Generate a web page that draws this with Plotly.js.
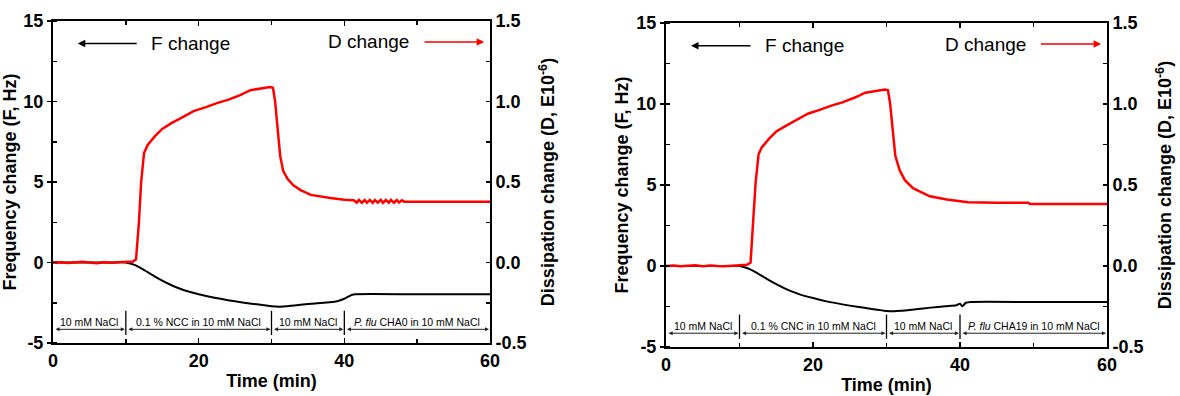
<!DOCTYPE html>
<html>
<head>
<meta charset="utf-8">
<script src="https://cdn.plot.ly/plotly-3.0.1.min.js"></script>
<style>
  html, body { margin: 0; padding: 0; background: #fff; }
  #chart { width: 1180px; height: 396px; }
</style>
</head>
<body>
<div id="chart"></div>
<script>
// ---------------- Data ----------------
// Panel A (NCC / CHA0): frequency change (Hz)
const timeF_A = [0, 4, 8, 10, 11, 12, 13, 14, 15, 16, 17, 18, 20, 22, 24, 26, 28, 29, 30, 31, 32, 34, 36, 38, 39, 40, 41, 41.5, 50, 60];
const freqA   = [0, 0, 0, 0, -0.12, -0.33, -0.6, -0.87, -1.12, -1.35, -1.55, -1.72, -1.97, -2.18, -2.34, -2.48, -2.6, -2.66, -2.72, -2.75, -2.72, -2.62, -2.54, -2.47, -2.41, -2.25, -2.02, -1.97, -1.97, -1.97];
// Panel A: dissipation change (E10^-6)
const timeD_A = [0, 1, 2, 3, 4, 5, 6, 7, 8, 9, 10, 11, 11.4, 11.8, 12.1, 12.5, 13, 14, 15, 16.3, 17.5, 19.3, 21, 22.5, 24, 25.7, 27.1, 28.5, 29.8, 30.2, 30.5, 30.8, 31.2, 31.6, 32.2, 33, 34, 35.4, 36.7, 38.1, 40, 41.3, 41.7, 42.0, 42.4, 42.8, 43.1, 43.5, 43.9, 44.2, 44.6, 45.0, 45.3, 45.7, 46.1, 46.4, 46.8, 47.2, 47.5, 47.9, 48.2, 52, 56, 60];
const dissA   = [0, 0.002, -0.003, 0.001, 0.004, 0.0, -0.004, 0.002, -0.002, 0.001, 0.003, 0.006, 0.02, 0.25, 0.5, 0.68, 0.73, 0.785, 0.83, 0.867, 0.895, 0.94, 0.965, 0.99, 1.01, 1.04, 1.07, 1.08, 1.09, 1.085, 1.0, 0.85, 0.66, 0.57, 0.52, 0.48, 0.45, 0.42, 0.41, 0.4, 0.39, 0.387, 0.372, 0.389, 0.371, 0.388, 0.372, 0.389, 0.371, 0.388, 0.372, 0.389, 0.371, 0.388, 0.372, 0.389, 0.371, 0.388, 0.372, 0.387, 0.378, 0.377, 0.377, 0.377];

// Panel B (CNC / CHA19): frequency change (Hz)
const timeF_B = [0, 4, 8, 10, 11, 12, 13, 14, 15, 16, 17, 18, 20, 22, 24, 26, 28, 29, 30, 31, 32, 34, 36, 38, 39.5, 40, 40.3, 40.8, 41.5, 50, 60];
const freqB   = [0, 0, 0, 0, -0.12, -0.33, -0.6, -0.87, -1.12, -1.35, -1.55, -1.72, -1.98, -2.2, -2.37, -2.52, -2.65, -2.72, -2.78, -2.8, -2.77, -2.67, -2.57, -2.48, -2.42, -2.33, -2.48, -2.27, -2.22, -2.22, -2.22];
// Panel B: dissipation change (E10^-6)
const timeD_B = [0, 1, 2, 3, 4, 5, 6, 7, 8, 9, 10, 11, 11.5, 11.9, 12.2, 12.6, 13, 14, 15, 16.3, 17.5, 19.3, 21, 22.5, 24, 25.7, 27.1, 28.5, 29.8, 30.2, 30.5, 30.8, 31.2, 31.8, 32.5, 33.6, 35.9, 38.2, 40, 41.1, 45, 49.3, 49.5, 55, 60];
const dissB   = [0, 0.003, -0.002, 0.002, 0.004, -0.001, 0.003, 0.0, -0.002, 0.002, 0.004, 0.007, 0.02, 0.28, 0.52, 0.69, 0.73, 0.785, 0.83, 0.865, 0.895, 0.94, 0.965, 0.99, 1.01, 1.04, 1.07, 1.08, 1.09, 1.085, 1.0, 0.86, 0.68, 0.59, 0.53, 0.48, 0.43, 0.41, 0.4, 0.393, 0.391, 0.39, 0.383, 0.383, 0.383];

// Phase boundaries and labels (time, min)
const phaseBounds = [0, 10, 30, 40, 60];
const phaseLabelsA = ['10 mM NaCl', '0.1 % NCC in 10 mM NaCl', '10 mM NaCl', '<i>P. flu</i> CHA0 in 10 mM NaCl'];
const phaseLabelsB = ['10 mM NaCl', '0.1 % CNC in 10 mM NaCl', '10 mM NaCl', '<i>P. flu</i> CHA19 in 10 mM NaCl'];

// Axis ticks
const xTicks = [0, 20, 40, 60];
const yTicks = [-5, 0, 5, 10, 15];
const yTickLabels = ['-5', '0', '5', '10', '15'];
const y2Ticks = [-0.5, 0, 0.5, 1.0, 1.5];
const y2TickLabels = ['-0.5', '0.0', '0.5', '1.0', '1.5'];

// ---------------- Styling ----------------
const FONT = 'Liberation Sans, Arial, sans-serif';
const tickFont = {family: FONT, size: 18, color: '#000', weight: 'bold'};
const titleFont = {family: FONT, size: 18, color: '#000', weight: 'bold'};

function xAxis(domain, anchor) {
  return {
    domain: domain, anchor: anchor, range: [0, 60],
    showline: true, linewidth: 2, linecolor: '#000', mirror: 'ticks',
    ticks: 'inside', ticklen: 5, tickwidth: 1.5, tickcolor: '#000',
    tickmode: 'array', tickvals: xTicks, ticktext: xTicks.map(String),
    minor: {tick0: 0, dtick: 10, ticks: 'inside', ticklen: 4, tickwidth: 1.5, tickcolor: '#000'},
    showgrid: false, zeroline: false, tickfont: tickFont,
    title: {text: 'Time (min)', font: titleFont, standoff: 5}
  };
}
function yLeft(domain, anchor) {
  return {
    domain: domain, anchor: anchor, range: [-5, 15],
    showline: true, linewidth: 2, linecolor: '#000',
    ticks: 'outside', ticklen: 4, tickwidth: 1.5, tickcolor: '#000',
    tickmode: 'array', tickvals: yTicks, ticktext: yTickLabels,
    minor: {tick0: 0, dtick: 2.5, ticks: 'inside', ticklen: 4, tickwidth: 1.5, tickcolor: '#000'},
    showgrid: false, zeroline: false, tickfont: tickFont,
    title: {text: 'Frequency change (F, Hz)', font: titleFont, standoff: 3}
  };
}
function yRight(overlay, anchor) {
  return {
    overlaying: overlay, side: 'right', anchor: anchor, range: [-0.5, 1.5],
    showline: true, linewidth: 2, linecolor: '#000',
    ticks: 'inside', ticklen: 4, tickwidth: 1.5, tickcolor: '#000',
    tickmode: 'array', tickvals: y2Ticks, ticktext: y2TickLabels,
    minor: {tick0: 0, dtick: 0.25, ticks: 'inside', ticklen: 4, tickwidth: 1.5, tickcolor: '#000'},
    showgrid: false, zeroline: false, tickfont: tickFont,
    title: {text: 'Dissipation change (D, E10<sup>-6</sup>)', font: titleFont, standoff: 16}
  };
}

const traces = [
  {x: timeF_A, y: freqA, xaxis: 'x', yaxis: 'y', mode: 'lines', line: {color: '#000', width: 2, shape: 'spline', smoothing: 0.6}, hoverinfo: 'skip'},
  {x: timeD_A, y: dissA, xaxis: 'x', yaxis: 'y2', mode: 'lines', line: {color: '#ff0000', width: 2.5}, hoverinfo: 'skip'},
  {x: timeF_B, y: freqB, xaxis: 'x2', yaxis: 'y3', mode: 'lines', line: {color: '#000', width: 2, shape: 'spline', smoothing: 0.6}, hoverinfo: 'skip'},
  {x: timeD_B, y: dissB, xaxis: 'x2', yaxis: 'y4', mode: 'lines', line: {color: '#ff0000', width: 2.5}, hoverinfo: 'skip'}
];

const annotations = [];
const shapes = [];
const annFont = {family: FONT, size: 10.5, color: '#000'};

function addPanelDecor(xr, yr, labels) {
  // legend-like labels
  annotations.push({xref: xr, yref: yr, axref: xr, ayref: yr, x: 3.4, y: 13.6, ax: 11.7, ay: 13.6, text: '', showarrow: true, arrowhead: 2, arrowsize: 1, arrowwidth: 1.5, arrowcolor: '#000'});
  annotations.push({xref: xr, yref: yr, x: 13.2, y: 13.6, xanchor: 'left', yanchor: 'middle', text: 'F change', showarrow: false, font: {family: FONT, size: 19, color: '#000'}});
  annotations.push({xref: xr, yref: yr, x: 49.2, y: 13.7, xanchor: 'right', yanchor: 'middle', text: 'D change', showarrow: false, font: {family: FONT, size: 19, color: '#000'}});
  annotations.push({xref: xr, yref: yr, axref: xr, ayref: yr, x: 59.2, y: 13.7, ax: 50.8, ay: 13.7, text: '', showarrow: true, arrowhead: 2, arrowsize: 1, arrowwidth: 1.5, arrowcolor: '#ff0000'});
  // phase brackets
  for (let i = 0; i < labels.length; i++) {
    const a = phaseBounds[i], b = phaseBounds[i + 1];
    annotations.push({xref: xr, yref: yr, axref: xr, ayref: yr, x: b - 0.15, y: -4.15, ax: a + 0.15, ay: -4.15, text: '', showarrow: true, arrowhead: 2, arrowside: 'end+start', arrowsize: 0.8, arrowwidth: 1, arrowcolor: '#222'});
    annotations.push({xref: xr, yref: yr, x: (a + b) / 2, y: -3.72, text: labels[i], showarrow: false, font: annFont, xanchor: 'center', yanchor: 'middle'});
  }
  for (let i = 1; i < phaseBounds.length - 1; i++) {
    shapes.push({type: 'line', xref: xr, yref: yr, x0: phaseBounds[i], x1: phaseBounds[i], y0: -3.0, y1: -4.5, line: {color: '#000', width: 1.3}});
  }
}
addPanelDecor('x', 'y', phaseLabelsA);
addPanelDecor('x2', 'y3', phaseLabelsB);

const layout = {
  width: 1180, height: 396,
  margin: {l: 0, r: 0, t: 0, b: 0},
  paper_bgcolor: '#fff', plot_bgcolor: 'rgba(0,0,0,0)',
  showlegend: false,
  font: {family: FONT, color: '#000'},
  xaxis: xAxis([53 / 1180, 490 / 1180], 'y'),
  yaxis: yLeft([1 - 343 / 396, 1 - 21 / 396], 'x'),
  yaxis2: yRight('y', 'x'),
  xaxis2: xAxis([666 / 1180, 1107 / 1180], 'y3'),
  yaxis3: yLeft([1 - 347 / 396, 1 - 23 / 396], 'x2'),
  yaxis4: yRight('y3', 'x2'),
  annotations: annotations,
  shapes: shapes
};

Plotly.newPlot('chart', traces, layout, {staticPlot: true, displayModeBar: false});
</script>
</body>
</html>
